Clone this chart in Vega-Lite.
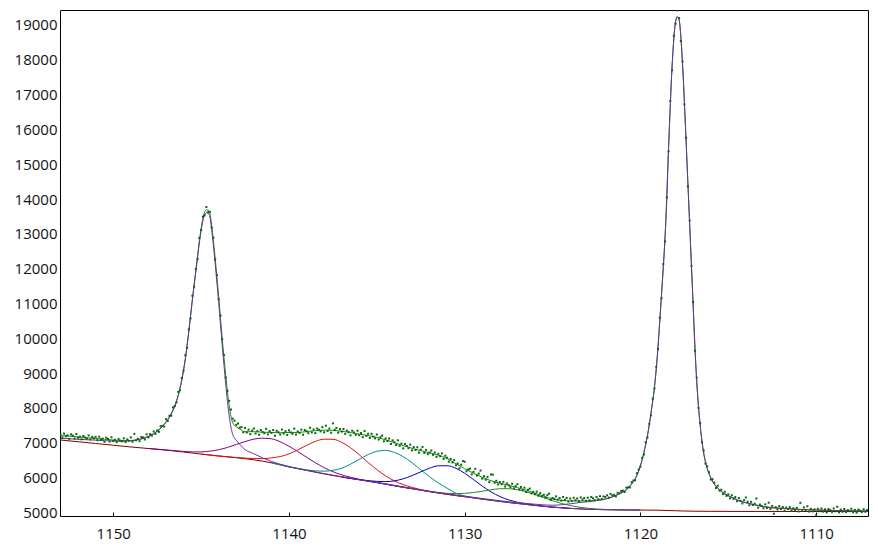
{
"$schema": "https://vega.github.io/schema/vega-lite/v6.json",
"width": 808, "height": 506,
"autosize": "none",
"padding": {"left": 60, "top": 10, "right": 10, "bottom": 34},
"background": "white",
"config": {
  "view": {"stroke": "black", "strokeWidth": 1},
  "axis": {"domain": false, "grid": false, "labelFont": "Open Sans", "labelFontSize": 15, "labelColor": "#111111", "title": null}
},
"datasets": {
"bg": [{"x":1153,"y":7075},{"x":1152,"y":7025},{"x":1151,"y":6975},{"x":1150,"y":6925},{"x":1149,"y":6875},{"x":1148,"y":6830},{"x":1147,"y":6785},{"x":1146,"y":6730},{"x":1145,"y":6670},{"x":1144,"y":6615},{"x":1143,"y":6565},{"x":1142,"y":6505},{"x":1141,"y":6420},{"x":1140,"y":6300},{"x":1139,"y":6200},{"x":1138,"y":6100},{"x":1137,"y":6010},{"x":1136,"y":5930},{"x":1135,"y":5850},{"x":1134,"y":5760},{"x":1133,"y":5675},{"x":1132,"y":5590},{"x":1131,"y":5515},{"x":1130,"y":5445},{"x":1129,"y":5375},{"x":1128,"y":5310},{"x":1127,"y":5250},{"x":1126,"y":5195},{"x":1125,"y":5145},{"x":1124,"y":5110},{"x":1123,"y":5085},{"x":1122,"y":5072},{"x":1121,"y":5066},{"x":1120,"y":5062},{"x":1119,"y":5058},{"x":1118.5,"y":5050},{"x":1118,"y":5042},{"x":1117.5,"y":5034},{"x":1117,"y":5029},{"x":1116,"y":5025},{"x":1114,"y":5022},{"x":1110,"y":5020},{"x":1107,"y":5020}],
"m1": [{"x":1153,"y":7125},{"x":1152,"y":7095},{"x":1151,"y":7070},{"x":1150.5,"y":7055},{"x":1150,"y":7045},{"x":1149.5,"y":7040},{"x":1149,"y":7050},{"x":1148.5,"y":7090},{"x":1148,"y":7170},{"x":1147.7,"y":7253},{"x":1147.4,"y":7363},{"x":1147.1,"y":7522},{"x":1146.8,"y":7728},{"x":1146.6,"y":7926},{"x":1146.5,"y":8036},{"x":1146.4,"y":8191},{"x":1146.3,"y":8356},{"x":1146.2,"y":8560},{"x":1146.1,"y":8785},{"x":1146.0,"y":9075},{"x":1145.9,"y":9385},{"x":1145.8,"y":9772},{"x":1145.7,"y":10180},{"x":1145.6,"y":10628},{"x":1145.5,"y":11076},{"x":1145.4,"y":11490},{"x":1145.3,"y":11908},{"x":1145.2,"y":12325},{"x":1145.1,"y":12743},{"x":1145.0,"y":13088},{"x":1144.9,"y":13370},{"x":1144.8,"y":13545},{"x":1144.7,"y":13605},{"x":1144.6,"y":13590},{"x":1144.5,"y":13480},{"x":1144.4,"y":13130},{"x":1144.3,"y":12660},{"x":1144.2,"y":12150},{"x":1144.1,"y":11590},{"x":1144.0,"y":11020},{"x":1143.9,"y":10410},{"x":1143.8,"y":9800},{"x":1143.7,"y":9230},{"x":1143.6,"y":8690},{"x":1143.5,"y":8180},{"x":1143.4,"y":7760},{"x":1143.3,"y":7440},{"x":1143.2,"y":7230},{"x":1143.1,"y":7130},{"x":1143.0,"y":7070},{"x":1142.8,"y":6950},{"x":1142.5,"y":6800},{"x":1142,"y":6680},{"x":1141.5,"y":6560},{"x":1141,"y":6460},{"x":1140.5,"y":6380},{"x":1140,"y":6315},{"x":1139.5,"y":6260},{"x":1139,"y":6205},{"x":1138,"y":6110},{"x":1137,"y":6020},{"x":1136,"y":5935},{"x":1135,"y":5852},{"x":1134,"y":5762},{"x":1133,"y":5677},{"x":1132,"y":5592},{"x":1131,"y":5517},{"x":1130,"y":5447},{"x":1128,"y":5312},{"x":1126,"y":5196},{"x":1124,"y":5111},{"x":1122,"y":5072},{"x":1120,"y":5062}],
"m2": [{"x":1135,"y":5860},{"x":1133,"y":5685},{"x":1131,"y":5527},{"x":1130,"y":5460},{"x":1129,"y":5393},{"x":1128,"y":5330},{"x":1127,"y":5275},{"x":1126,"y":5230},{"x":1125,"y":5200},{"x":1124.5,"y":5215},{"x":1124,"y":5240},{"x":1123.5,"y":5277},{"x":1123,"y":5300},{"x":1122.5,"y":5333},{"x":1122,"y":5375},{"x":1121.5,"y":5460},{"x":1121.0,"y":5580},{"x":1120.9,"y":5610},{"x":1120.8,"y":5645},{"x":1120.7,"y":5695},{"x":1120.6,"y":5750},{"x":1120.5,"y":5812},{"x":1120.4,"y":5880},{"x":1120.3,"y":5960},{"x":1120.2,"y":6060},{"x":1120.1,"y":6190},{"x":1120.0,"y":6340},{"x":1119.9,"y":6510},{"x":1119.8,"y":6720},{"x":1119.7,"y":6950},{"x":1119.6,"y":7200},{"x":1119.5,"y":7500},{"x":1119.4,"y":7850},{"x":1119.3,"y":8200},{"x":1119.2,"y":8600},{"x":1119.1,"y":9100},{"x":1119.0,"y":9750},{"x":1118.9,"y":10500},{"x":1118.8,"y":11250},{"x":1118.7,"y":12050},{"x":1118.6,"y":12900},{"x":1118.5,"y":13950},{"x":1118.4,"y":15450},{"x":1118.3,"y":16700},{"x":1118.2,"y":17800},{"x":1118.1,"y":18600},{"x":1118.0,"y":19100},{"x":1117.9,"y":19240},{"x":1117.8,"y":19150},{"x":1117.7,"y":18650},{"x":1117.6,"y":17850},{"x":1117.5,"y":16800},{"x":1117.4,"y":15650},{"x":1117.3,"y":14450},{"x":1117.2,"y":13300},{"x":1117.1,"y":12150},{"x":1117.0,"y":10950},{"x":1116.9,"y":9700},{"x":1116.8,"y":8800},{"x":1116.7,"y":8050},{"x":1116.6,"y":7500},{"x":1116.5,"y":7050},{"x":1116.4,"y":6700},{"x":1116.3,"y":6450},{"x":1116.2,"y":6260},{"x":1116.1,"y":6110},{"x":1116.0,"y":5990},{"x":1115.9,"y":5890},{"x":1115.8,"y":5810},{"x":1115.7,"y":5745},{"x":1115.6,"y":5690},{"x":1115.5,"y":5640},{"x":1115.4,"y":5597},{"x":1115.3,"y":5560},{"x":1115.2,"y":5527},{"x":1115.1,"y":5498},{"x":1115.0,"y":5472},{"x":1114.9,"y":5448},{"x":1114.8,"y":5426},{"x":1114.7,"y":5406},{"x":1114.6,"y":5388},{"x":1114.5,"y":5355},{"x":1114.0,"y":5273},{"x":1113.5,"y":5215},{"x":1113.0,"y":5162},{"x":1112.5,"y":5130},{"x":1112.0,"y":5112},{"x":1111.0,"y":5082},{"x":1110.0,"y":5061},{"x":1109.0,"y":5048},{"x":1108.0,"y":5039},{"x":1107.0,"y":5032}],
"s1": [{"x":1148,"y":6832},{"x":1147,"y":6789},{"x":1146,"y":6747},{"x":1145.5,"y":6734},{"x":1145,"y":6733},{"x":1144.5,"y":6755},{"x":1144,"y":6795},{"x":1143.5,"y":6861},{"x":1143,"y":6945},{"x":1142.5,"y":7028},{"x":1142,"y":7100},{"x":1141.5,"y":7127},{"x":1141,"y":7110},{"x":1140.5,"y":7025},{"x":1140,"y":6895},{"x":1139.5,"y":6743},{"x":1139,"y":6580},{"x":1138.5,"y":6421},{"x":1138,"y":6280},{"x":1137.5,"y":6165},{"x":1137,"y":6073},{"x":1136.5,"y":6005},{"x":1136,"y":5947},{"x":1135,"y":5854},{"x":1134,"y":5761},{"x":1133,"y":5675}],
"s2": [{"x":1145,"y":6670},{"x":1144,"y":6616},{"x":1143,"y":6572},{"x":1142,"y":6543},{"x":1141.5,"y":6538},{"x":1141,"y":6561},{"x":1140.5,"y":6599},{"x":1140,"y":6675},{"x":1139.5,"y":6791},{"x":1139,"y":6920},{"x":1138.5,"y":7034},{"x":1138,"y":7098},{"x":1137.5,"y":7095},{"x":1137,"y":7008},{"x":1136.5,"y":6854},{"x":1136,"y":6650},{"x":1135.5,"y":6431},{"x":1135,"y":6225},{"x":1134.5,"y":6044},{"x":1134,"y":5901},{"x":1133.5,"y":5794},{"x":1133,"y":5713},{"x":1132,"y":5597},{"x":1131,"y":5515},{"x":1130,"y":5445}],
"s3": [{"x":1141,"y":6420},{"x":1140,"y":6303},{"x":1139,"y":6217},{"x":1138.5,"y":6188},{"x":1138,"y":6179},{"x":1137.5,"y":6203},{"x":1137,"y":6264},{"x":1136.5,"y":6380},{"x":1136,"y":6520},{"x":1135.5,"y":6655},{"x":1135,"y":6750},{"x":1134.5,"y":6775},{"x":1134,"y":6716},{"x":1133.5,"y":6597},{"x":1133,"y":6422},{"x":1132.5,"y":6220},{"x":1132,"y":6019},{"x":1131.5,"y":5841},{"x":1131,"y":5690},{"x":1130.5,"y":5545},{"x":1130,"y":5465},{"x":1129.5,"y":5420},{"x":1129,"y":5380},{"x":1128,"y":5312},{"x":1127,"y":5250}],
"s4": [{"x":1137,"y":6010},{"x":1136,"y":5936},{"x":1135,"y":5886},{"x":1134.5,"y":5880},{"x":1134,"y":5901},{"x":1133.5,"y":5960},{"x":1133,"y":6051},{"x":1132.5,"y":6160},{"x":1132,"y":6265},{"x":1131.5,"y":6333},{"x":1131,"y":6335},{"x":1130.5,"y":6261},{"x":1130,"y":6120},{"x":1129.5,"y":5938},{"x":1129,"y":5751},{"x":1128.5,"y":5584},{"x":1128,"y":5451},{"x":1127.5,"y":5355},{"x":1127,"y":5286},{"x":1126,"y":5201},{"x":1125,"y":5145},{"x":1124,"y":5110}],
"s5": [{"x":1134,"y":5760},{"x":1133,"y":5676},{"x":1132,"y":5595},{"x":1131,"y":5543},{"x":1130.5,"y":5534},{"x":1130,"y":5541},{"x":1129.5,"y":5565},{"x":1129,"y":5603},{"x":1128.5,"y":5644},{"x":1128,"y":5674},{"x":1127.5,"y":5677},{"x":1127,"y":5645},{"x":1126.5,"y":5586},{"x":1126,"y":5507},{"x":1125.5,"y":5419},{"x":1125,"y":5330},{"x":1124.5,"y":5252},{"x":1124,"y":5192},{"x":1123.5,"y":5145},{"x":1123,"y":5112},{"x":1122,"y":5079},{"x":1121,"y":5066},{"x":1120,"y":5062}],
"env": [{"x":1153,"y":7200},{"x":1152.5,"y":7185},{"x":1152,"y":7165},{"x":1151.5,"y":7140},{"x":1151,"y":7120},{"x":1150.5,"y":7095},{"x":1150,"y":7075},{"x":1149.5,"y":7055},{"x":1149,"y":7060},{"x":1148.5,"y":7100},{"x":1148,"y":7180},{"x":1147.9,"y":7205},{"x":1147.8,"y":7232},{"x":1147.7,"y":7260},{"x":1147.6,"y":7295},{"x":1147.5,"y":7330},{"x":1147.4,"y":7370},{"x":1147.3,"y":7420},{"x":1147.2,"y":7472},{"x":1147.1,"y":7530},{"x":1147.0,"y":7595},{"x":1146.9,"y":7665},{"x":1146.8,"y":7740},{"x":1146.7,"y":7835},{"x":1146.6,"y":7940},{"x":1146.5,"y":8050},{"x":1146.4,"y":8205},{"x":1146.3,"y":8370},{"x":1146.2,"y":8575},{"x":1146.1,"y":8800},{"x":1146.0,"y":9090},{"x":1145.9,"y":9410},{"x":1145.8,"y":9800},{"x":1145.7,"y":10210},{"x":1145.6,"y":10660},{"x":1145.5,"y":11110},{"x":1145.4,"y":11540},{"x":1145.3,"y":11960},{"x":1145.2,"y":12380},{"x":1145.1,"y":12800},{"x":1145.0,"y":13150},{"x":1144.9,"y":13440},{"x":1144.8,"y":13620},{"x":1144.7,"y":13690},{"x":1144.6,"y":13680},{"x":1144.5,"y":13590},{"x":1144.4,"y":13250},{"x":1144.3,"y":12800},{"x":1144.2,"y":12300},{"x":1144.1,"y":11750},{"x":1144.0,"y":11200},{"x":1143.9,"y":10600},{"x":1143.8,"y":10000},{"x":1143.7,"y":9450},{"x":1143.6,"y":8930},{"x":1143.5,"y":8450},{"x":1143.4,"y":8050},{"x":1143.3,"y":7750},{"x":1143.2,"y":7570},{"x":1143.1,"y":7490},{"x":1143.0,"y":7450},{"x":1142.9,"y":7420},{"x":1142.8,"y":7390},{"x":1142.5,"y":7311},{"x":1142,"y":7313},{"x":1141.5,"y":7301},{"x":1141,"y":7291},{"x":1140.5,"y":7284},{"x":1140,"y":7293},{"x":1139.5,"y":7292},{"x":1139,"y":7317},{"x":1138.5,"y":7343},{"x":1138,"y":7357},{"x":1137.5,"y":7353},{"x":1137,"y":7325},{"x":1136.5,"y":7290},{"x":1136,"y":7243},{"x":1135.5,"y":7204},{"x":1135,"y":7152},{"x":1134.5,"y":7082},{"x":1134,"y":6998},{"x":1133.5,"y":6915},{"x":1133,"y":6836},{"x":1132.5,"y":6768},{"x":1132,"y":6706},{"x":1131.5,"y":6637},{"x":1131,"y":6544},{"x":1130.5,"y":6392},{"x":1130,"y":6251},{"x":1129.5,"y":6120},{"x":1129,"y":6005},{"x":1128.5,"y":5904},{"x":1128,"y":5835},{"x":1127.5,"y":5774},{"x":1127,"y":5706},{"x":1126.5,"y":5631},{"x":1126,"y":5548},{"x":1125.5,"y":5461},{"x":1125,"y":5380},{"x":1124.5,"y":5342},{"x":1124,"y":5322},{"x":1123.5,"y":5325},{"x":1123,"y":5327},{"x":1122.5,"y":5348},{"x":1122,"y":5379},{"x":1121.5,"y":5460},{"x":1121.0,"y":5580},{"x":1120.8,"y":5645},{"x":1120.6,"y":5750},{"x":1120.4,"y":5880},{"x":1120.2,"y":6060},{"x":1120.0,"y":6340},{"x":1119.8,"y":6720},{"x":1119.6,"y":7200},{"x":1119.4,"y":7850},{"x":1119.2,"y":8600},{"x":1119.0,"y":9750},{"x":1118.8,"y":11250},{"x":1118.6,"y":12900},{"x":1118.4,"y":15450},{"x":1118.2,"y":17800},{"x":1118.0,"y":19100},{"x":1117.9,"y":19240},{"x":1117.8,"y":19150},{"x":1117.6,"y":17850},{"x":1117.4,"y":15650},{"x":1117.2,"y":13300},{"x":1117.0,"y":10950},{"x":1116.8,"y":8800},{"x":1116.6,"y":7500},{"x":1116.4,"y":6700},{"x":1116.2,"y":6260},{"x":1116.0,"y":5990},{"x":1115.8,"y":5810},{"x":1115.6,"y":5690},{"x":1115.4,"y":5597},{"x":1115.2,"y":5527},{"x":1115.0,"y":5472},{"x":1114.5,"y":5355},{"x":1114.0,"y":5273},{"x":1113.5,"y":5215},{"x":1113.0,"y":5162},{"x":1112.5,"y":5130},{"x":1112.0,"y":5112},{"x":1111.0,"y":5082},{"x":1110.0,"y":5061},{"x":1109.0,"y":5048},{"x":1108.0,"y":5039},{"x":1107.0,"y":5032}],
"pts": [{"x":1153.0,"y":7230},{"x":1152.9,"y":7147},{"x":1152.8,"y":7259},{"x":1152.7,"y":7181},{"x":1152.6,"y":7208},{"x":1152.5,"y":7110},{"x":1152.4,"y":7236},{"x":1152.3,"y":7202},{"x":1152.2,"y":7118},{"x":1152.1,"y":7249},{"x":1152.0,"y":7135},{"x":1151.9,"y":7170},{"x":1151.8,"y":7095},{"x":1151.7,"y":7190},{"x":1151.6,"y":7145},{"x":1151.5,"y":7115},{"x":1151.4,"y":7206},{"x":1151.3,"y":7092},{"x":1151.2,"y":7163},{"x":1151.1,"y":7119},{"x":1151.0,"y":7165},{"x":1150.9,"y":7070},{"x":1150.8,"y":7170},{"x":1150.7,"y":7090},{"x":1150.6,"y":7115},{"x":1150.5,"y":7025},{"x":1150.4,"y":7141},{"x":1150.3,"y":7107},{"x":1150.2,"y":7033},{"x":1150.1,"y":7154},{"x":1150.0,"y":7045},{"x":1149.9,"y":7081},{"x":1149.8,"y":7012},{"x":1149.7,"y":7103},{"x":1149.6,"y":7059},{"x":1149.5,"y":7035},{"x":1149.4,"y":7120},{"x":1149.3,"y":7016},{"x":1149.2,"y":7092},{"x":1149.1,"y":7053},{"x":1149.0,"y":7150},{"x":1148.9,"y":7026},{"x":1148.8,"y":7253},{"x":1148.7,"y":7066},{"x":1148.6,"y":7110},{"x":1148.5,"y":7040},{"x":1148.4,"y":7162},{"x":1148.3,"y":7150},{"x":1148.2,"y":7090},{"x":1148.1,"y":7238},{"x":1148.0,"y":7150},
{"x":1147.9,"y":7245},{"x":1147.8,"y":7202},{"x":1147.7,"y":7320},{"x":1147.6,"y":7250},{"x":1147.5,"y":7350},{"x":1147.4,"y":7310},{"x":1147.3,"y":7470},{"x":1147.2,"y":7482},{"x":1147.1,"y":7460},{"x":1147.0,"y":7675},{"x":1146.9,"y":7625},{"x":1146.8,"y":7770},{"x":1146.7,"y":7775},{"x":1146.6,"y":8010},{"x":1146.5,"y":8050},{"x":1146.4,"y":8155},{"x":1146.3,"y":8460},{"x":1146.2,"y":8505},{"x":1146.1,"y":8860},{"x":1146.0,"y":9070},{"x":1145.9,"y":9510},{"x":1145.8,"y":9720},{"x":1145.7,"y":10250},{"x":1145.6,"y":10570},{"x":1145.5,"y":11220},{"x":1145.4,"y":11480},{"x":1145.3,"y":11990},{"x":1145.2,"y":12280},{"x":1145.1,"y":12880},{"x":1145.0,"y":13110},{"x":1144.9,"y":13490},{"x":1144.8,"y":13530},{"x":1144.7,"y":13770},{"x":1144.6,"y":13620},{"x":1144.5,"y":13630},{"x":1144.4,"y":13180},{"x":1144.3,"y":12890},{"x":1144.2,"y":12260},{"x":1144.1,"y":11810},{"x":1144.0,"y":11120},{"x":1143.9,"y":10650},{"x":1143.8,"y":9970},{"x":1143.7,"y":9520},{"x":1143.6,"y":8870},{"x":1143.5,"y":8490},{"x":1143.4,"y":8200},{"x":1143.3,"y":7950},{"x":1143.2,"y":7690},{"x":1143.1,"y":7630},{"x":1143.0,"y":7510},{"x":1142.9,"y":7550},{"x":1142.8,"y":7430},
{"x":1142.7,"y":7445},{"x":1142.6,"y":7298},{"x":1142.5,"y":7421},{"x":1142.4,"y":7291},{"x":1142.3,"y":7372},{"x":1142.2,"y":7242},{"x":1142.1,"y":7343},{"x":1142.0,"y":7403},{"x":1141.9,"y":7261},{"x":1141.8,"y":7328},{"x":1141.7,"y":7226},{"x":1141.6,"y":7363},{"x":1141.5,"y":7301},{"x":1141.4,"y":7269},{"x":1141.3,"y":7397},{"x":1141.2,"y":7235},{"x":1141.1,"y":7333},{"x":1141.0,"y":7281},{"x":1140.9,"y":7360},{"x":1140.8,"y":7198},{"x":1140.7,"y":7337},{"x":1140.6,"y":7295},{"x":1140.5,"y":7234},{"x":1140.4,"y":7376},{"x":1140.3,"y":7258},{"x":1140.2,"y":7329},{"x":1140.1,"y":7221},{"x":1140.0,"y":7353},{"x":1139.9,"y":7293},{"x":1139.8,"y":7253},{"x":1139.7,"y":7402},{"x":1139.6,"y":7232},{"x":1139.5,"y":7322},{"x":1139.4,"y":7277},{"x":1139.3,"y":7372},{"x":1139.2,"y":7227},{"x":1139.1,"y":7362},{"x":1139.0,"y":7327},{"x":1138.9,"y":7272},{"x":1138.8,"y":7427},{"x":1138.7,"y":7293},{"x":1138.6,"y":7378},{"x":1138.5,"y":7273},{"x":1138.4,"y":7406},{"x":1138.3,"y":7369},{"x":1138.2,"y":7321},{"x":1138.1,"y":7444},{"x":1138.0,"y":7297},{"x":1137.9,"y":7486},{"x":1137.8,"y":7335},{"x":1137.7,"y":7405},{"x":1137.6,"y":7284},{"x":1137.5,"y":7553},{"x":1137.4,"y":7367},{"x":1137.3,"y":7422},{"x":1137.2,"y":7286},{"x":1137.1,"y":7391},{"x":1137.0,"y":7315},{"x":1136.9,"y":7388},{"x":1136.8,"y":7251},{"x":1136.7,"y":7344},{"x":1136.6,"y":7297},{"x":1136.5,"y":7210},{"x":1136.4,"y":7341},{"x":1136.3,"y":7291},{"x":1136.2,"y":7222},{"x":1136.1,"y":7342},{"x":1136.0,"y":7213},{"x":1135.9,"y":7275},{"x":1135.8,"y":7157},{"x":1135.7,"y":7330},{"x":1135.6,"y":7192},{"x":1135.5,"y":7254},{"x":1135.4,"y":7134},{"x":1135.3,"y":7253},{"x":1135.2,"y":7173},{"x":1135.1,"y":7122},{"x":1135.0,"y":7232},{"x":1134.9,"y":7088},{"x":1134.8,"y":7154},{"x":1134.7,"y":7200},{"x":1134.6,"y":7036},{"x":1134.5,"y":7122},{"x":1134.4,"y":7045},{"x":1134.3,"y":7118},{"x":1134.2,"y":6962},{"x":1134.1,"y":7065},{"x":1134.0,"y":7008},{"x":1133.9,"y":6931},{"x":1133.8,"y":7065},{"x":1133.7,"y":6908},{"x":1133.6,"y":6972},{"x":1133.5,"y":6835},{"x":1133.4,"y":6959},{"x":1133.3,"y":6903},{"x":1133.2,"y":6838},{"x":1133.1,"y":6942},{"x":1133.0,"y":6776},{"x":1132.9,"y":6872},{"x":1132.8,"y":6789},{"x":1132.7,"y":6865},{"x":1132.6,"y":6712},{"x":1132.5,"y":6798},{"x":1132.4,"y":6876},{"x":1132.3,"y":6703},{"x":1132.2,"y":6791},{"x":1132.1,"y":6668},{"x":1132.0,"y":6716},{"x":1131.9,"y":6772},{"x":1131.8,"y":6648},{"x":1131.7,"y":6715},{"x":1131.6,"y":6591},{"x":1131.5,"y":6677},{"x":1131.4,"y":6608},{"x":1131.3,"y":6690},{"x":1131.2,"y":6531},{"x":1131.1,"y":6623},{"x":1131.0,"y":6564},{"x":1130.9,"y":6453},{"x":1130.8,"y":6531},{"x":1130.7,"y":6430},{"x":1130.6,"y":6498},{"x":1130.5,"y":6347},{"x":1130.4,"y":6400},{"x":1130.3,"y":6262},{"x":1130.2,"y":6365},{"x":1130.1,"y":6468},{"x":1130.0,"y":6451},{"x":1129.9,"y":6175},{"x":1129.8,"y":6229},{"x":1129.7,"y":6252},{"x":1129.6,"y":6086},{"x":1129.5,"y":6160},{"x":1129.4,"y":6247},{"x":1129.3,"y":6054},{"x":1129.2,"y":6111},{"x":1129.1,"y":6198},{"x":1129.0,"y":5965},{"x":1128.9,"y":6035},{"x":1128.8,"y":5935},{"x":1128.7,"y":6014},{"x":1128.6,"y":5864},{"x":1128.5,"y":6084},{"x":1128.4,"y":6080},{"x":1128.3,"y":5846},{"x":1128.2,"y":5903},{"x":1128.1,"y":5799},{"x":1128.0,"y":5865},{"x":1127.9,"y":5803},{"x":1127.8,"y":5871},{"x":1127.7,"y":5738},{"x":1127.6,"y":5826},{"x":1127.5,"y":5774},{"x":1127.4,"y":5720},{"x":1127.3,"y":5817},{"x":1127.2,"y":5683},{"x":1127.1,"y":5750},{"x":1127.0,"y":5806},{"x":1126.9,"y":5651},{"x":1126.8,"y":5726},{"x":1126.7,"y":5641},{"x":1126.6,"y":5706},{"x":1126.5,"y":5581},{"x":1126.4,"y":5644},{"x":1126.3,"y":5678},{"x":1126.2,"y":5541},{"x":1126.1,"y":5585},{"x":1126.0,"y":5518},{"x":1125.9,"y":5591},{"x":1125.8,"y":5473},{"x":1125.7,"y":5546},{"x":1125.6,"y":5458},{"x":1125.5,"y":5501},{"x":1125.4,"y":5415},{"x":1125.3,"y":5489},{"x":1125.2,"y":5532},{"x":1125.1,"y":5356},{"x":1125.0,"y":5410},{"x":1124.9,"y":5382},{"x":1124.8,"y":5455},{"x":1124.7,"y":5357},{"x":1124.6,"y":5410},{"x":1124.5,"y":5332},{"x":1124.4,"y":5438},{"x":1124.3,"y":5354},{"x":1124.2,"y":5410},{"x":1124.1,"y":5306},{"x":1124.0,"y":5392},{"x":1123.9,"y":5323},{"x":1123.8,"y":5413},{"x":1123.7,"y":5344},{"x":1123.6,"y":5394},{"x":1123.5,"y":5315},{"x":1123.4,"y":5425},{"x":1123.3,"y":5366},{"x":1123.2,"y":5406},{"x":1123.1,"y":5327},{"x":1123.0,"y":5417},{"x":1122.9,"y":5341},{"x":1122.8,"y":5435},{"x":1122.7,"y":5400},{"x":1122.6,"y":5344},{"x":1122.5,"y":5438},{"x":1122.4,"y":5374},{"x":1122.3,"y":5460},{"x":1122.2,"y":5377},{"x":1122.1,"y":5453},{"x":1122.0,"y":5439},{"x":1121.9,"y":5485},{"x":1121.8,"y":5421},{"x":1121.7,"y":5527},{"x":1121.6,"y":5484},{"x":1121.5,"y":5500},{"x":1121.4,"y":5454},{"x":1121.3,"y":5558},{"x":1121.2,"y":5542},{"x":1121.1,"y":5606},
{"x":1121.0,"y":5620},{"x":1120.9,"y":5580},{"x":1120.8,"y":5705},{"x":1120.7,"y":5715},{"x":1120.6,"y":5710},{"x":1120.5,"y":5862},{"x":1120.4,"y":5910},{"x":1120.3,"y":5920},{"x":1120.2,"y":6120},{"x":1120.1,"y":6230},{"x":1120.0,"y":6310},{"x":1119.9,"y":6560},{"x":1119.8,"y":6660},{"x":1119.7,"y":7010},{"x":1119.6,"y":7150},{"x":1119.5,"y":7540},{"x":1119.4,"y":7780},{"x":1119.3,"y":8260},{"x":1119.2,"y":8560},{"x":1119.1,"y":9180},{"x":1119.0,"y":9690},{"x":1118.9,"y":10590},{"x":1118.8,"y":11150},{"x":1118.7,"y":12130},{"x":1118.6,"y":12780},{"x":1118.5,"y":14050},{"x":1118.4,"y":15370},{"x":1118.3,"y":16820},{"x":1118.2,"y":17700},{"x":1118.1,"y":18690},{"x":1118.0,"y":19040},{"x":1117.9,"y":19420},{"x":1117.8,"y":19200},{"x":1117.7,"y":18540},{"x":1117.6,"y":17950},{"x":1117.5,"y":16720},{"x":1117.4,"y":15760},{"x":1117.3,"y":14360},{"x":1117.2,"y":13380},{"x":1117.1,"y":12080},{"x":1117.0,"y":11040},{"x":1116.9,"y":9640},{"x":1116.8,"y":8870},{"x":1116.7,"y":8000},{"x":1116.6,"y":7560},{"x":1116.5,"y":7010},{"x":1116.4,"y":6770},{"x":1116.3,"y":6400},{"x":1116.2,"y":6320},{"x":1116.1,"y":6150},{"x":1116.0,"y":5940},{"x":1115.9,"y":5950},{"x":1115.8,"y":5850},{"x":1115.7,"y":5695},{"x":1115.6,"y":5760},{"x":1115.5,"y":5620},{"x":1115.4,"y":5647},{"x":1115.3,"y":5520},{"x":1115.2,"y":5587},{"x":1115.1,"y":5468},{"x":1115.0,"y":5512},{"x":1114.9,"y":5398},{"x":1114.8,"y":5486},{"x":1114.7,"y":5386},{"x":1114.6,"y":5438},{"x":1114.5,"y":5315},{"x":1114.4,"y":5405},{"x":1114.3,"y":5328},{"x":1114.2,"y":5252},{"x":1114.1,"y":5347},{"x":1114.0,"y":5423},
{"x":1113.9,"y":5301},{"x":1113.8,"y":5200},{"x":1113.7,"y":5298},{"x":1113.6,"y":5207},{"x":1113.5,"y":5245},{"x":1113.4,"y":5393},{"x":1113.3,"y":5132},{"x":1113.2,"y":5220},{"x":1113.1,"y":5181},{"x":1113.0,"y":5112},{"x":1112.9,"y":5226},{"x":1112.8,"y":5119},{"x":1112.7,"y":5273},{"x":1112.6,"y":5096},{"x":1112.5,"y":5180},{"x":1112.4,"y":4956},{"x":1112.3,"y":5143},{"x":1112.2,"y":5079},{"x":1112.1,"y":5176},{"x":1112.0,"y":5092},{"x":1111.9,"y":5149},{"x":1111.8,"y":5046},{"x":1111.7,"y":5132},{"x":1111.6,"y":5089},{"x":1111.5,"y":5146},{"x":1111.4,"y":5043},{"x":1111.3,"y":5110},{"x":1111.2,"y":5058},{"x":1111.1,"y":5125},{"x":1111.0,"y":5022},{"x":1110.9,"y":5270},{"x":1110.8,"y":5038},{"x":1110.7,"y":5136},{"x":1110.6,"y":5053},{"x":1110.5,"y":5170},{"x":1110.4,"y":5018},{"x":1110.3,"y":5096},{"x":1110.2,"y":5024},{"x":1110.1,"y":5082},{"x":1110.0,"y":4911},{"x":1109.9,"y":5100},{"x":1109.8,"y":5028},{"x":1109.7,"y":5107},{"x":1109.6,"y":5015},{"x":1109.5,"y":5084},{"x":1109.4,"y":4993},{"x":1109.3,"y":5092},{"x":1109.2,"y":5060},{"x":1109.1,"y":5009},{"x":1109.0,"y":5108},{"x":1108.9,"y":5027},{"x":1108.8,"y":5156},{"x":1108.7,"y":4995},{"x":1108.6,"y":5074},{"x":1108.5,"y":5013},{"x":1108.4,"y":5092},{"x":1108.3,"y":5001},{"x":1108.2,"y":5061},{"x":1108.1,"y":5030},{"x":1108.0,"y":5099},{"x":1107.9,"y":4998},{"x":1107.8,"y":5067},{"x":1107.7,"y":4987},{"x":1107.6,"y":5076},{"x":1107.5,"y":5045},{"x":1107.4,"y":5004},{"x":1107.3,"y":5084},{"x":1107.2,"y":5013},{"x":1107.1,"y":5063}]
},
"encoding": {
  "x": {"field": "x", "type": "quantitative", "scale": {"domain": [1107.05, 1153.03], "reverse": true, "nice": false, "zero": false},
        "axis": {"values": [1150, 1140, 1130, 1120, 1110], "format": "d", "tickSize": -4, "tickColor": "black", "labelPadding": 14}},
  "y": {"field": "y", "type": "quantitative", "scale": {"domain": [4891, 19431], "nice": false, "zero": false},
        "axis": {"values": [5000,6000,7000,8000,9000,10000,11000,12000,13000,14000,15000,16000,17000,18000,19000], "format": "d", "ticks": false, "labelPadding": 3}}
},
"layer": [
  {"data": {"name": "bg"}, "mark": {"type": "line", "color": "#800000", "strokeWidth": 1, "interpolate": "monotone", "clip": true}},
  {"data": {"name": "s1"}, "mark": {"type": "line", "color": "#800080", "strokeWidth": 1, "interpolate": "monotone", "clip": true}},
  {"data": {"name": "s2"}, "mark": {"type": "line", "color": "#E01010", "strokeWidth": 1, "interpolate": "monotone", "clip": true}},
  {"data": {"name": "s3"}, "mark": {"type": "line", "color": "#008B8B", "strokeWidth": 1, "interpolate": "monotone", "clip": true}},
  {"data": {"name": "s4"}, "mark": {"type": "line", "color": "#0000C0", "strokeWidth": 1, "interpolate": "monotone", "clip": true}},
  {"data": {"name": "s5"}, "mark": {"type": "line", "color": "#1E8C1E", "strokeWidth": 1, "interpolate": "monotone", "clip": true}},
  {"data": {"name": "env"}, "mark": {"type": "line", "color": "#118811", "strokeWidth": 1, "interpolate": "monotone", "clip": true}},
  {"data": {"name": "m1"}, "mark": {"type": "line", "color": "#7030A0", "strokeWidth": 1, "interpolate": "monotone", "clip": true}},
  {"data": {"name": "m2"}, "mark": {"type": "line", "color": "#7030A0", "strokeWidth": 1, "interpolate": "monotone", "clip": true}},
  {"data": {"name": "pts"}, "mark": {"type": "point", "shape": "square", "filled": true, "size": 4, "color": "#0B650B", "opacity": 1, "clip": true}}
]
}
